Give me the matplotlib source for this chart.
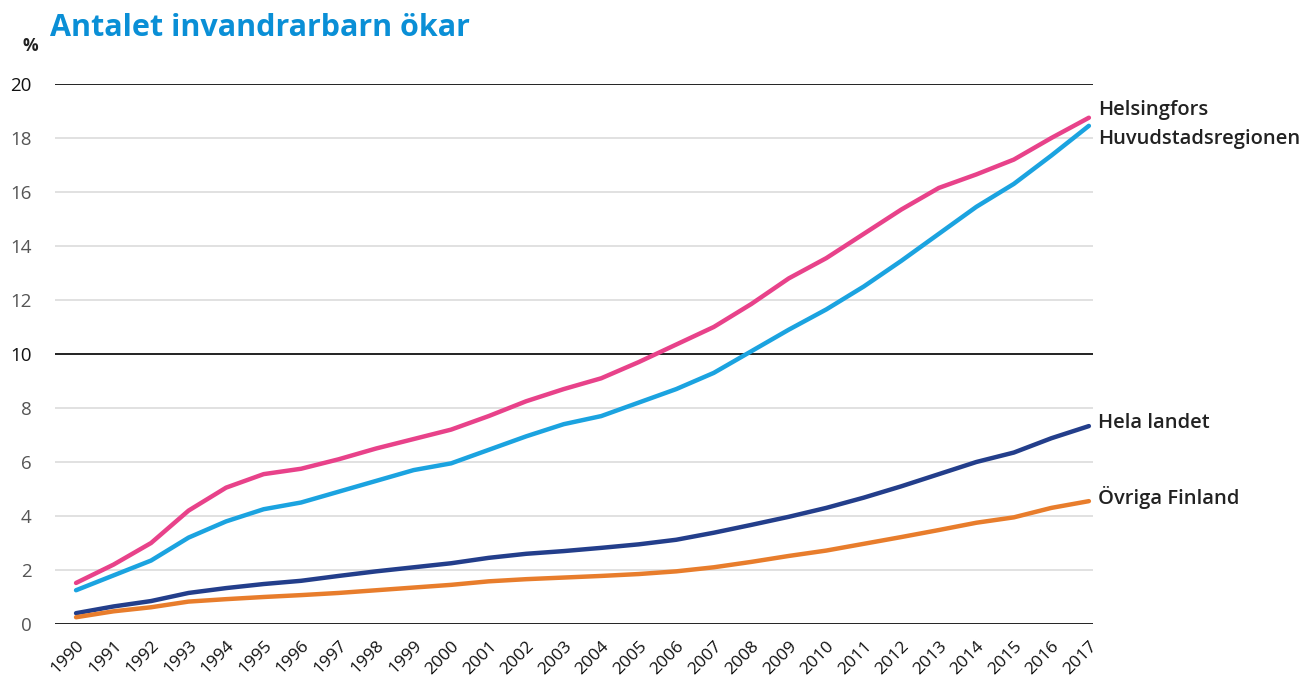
import matplotlib.pyplot as plt
import numpy as np

years = list(range(1990, 2018))

helsingfors = [1.52, 2.2, 3.0, 4.2, 5.05, 5.55, 5.75, 6.1, 6.5, 6.85, 7.2, 7.7, 8.25, 8.7,
               9.1, 9.7, 10.35, 11.0, 11.85, 12.8, 13.55, 14.45, 15.35, 16.15, 16.65, 17.2,
               18.0, 18.75]
huvudstad = [1.25, 1.8, 2.35, 3.2, 3.8, 4.25, 4.5, 4.9, 5.3, 5.7, 5.95, 6.45, 6.95, 7.4,
             7.7, 8.2, 8.7, 9.3, 10.1, 10.9, 11.65, 12.5, 13.45, 14.45, 15.45, 16.3,
             17.35, 18.45]
hela_landet = [0.4, 0.65, 0.85, 1.15, 1.33, 1.48, 1.6, 1.78, 1.95, 2.1, 2.25, 2.45, 2.6, 2.7,
               2.82, 2.95, 3.12, 3.38, 3.67, 3.97, 4.3, 4.68, 5.1, 5.55, 6.0, 6.35,
               6.88, 7.33]
ovriga = [0.25, 0.47, 0.62, 0.83, 0.92, 1.0, 1.07, 1.15, 1.25, 1.35, 1.45, 1.58, 1.66, 1.72,
          1.78, 1.85, 1.95, 2.1, 2.3, 2.52, 2.72, 2.97, 3.22, 3.48, 3.75, 3.95,
          4.3, 4.55]

names = ["Helsingfors", "Huvudstadsregionen", "Hela landet", "Övriga Finland"]
colors = ["#e8428a", "#1ba3e0", "#233e8b", "#e87d2c"]
# label heights (in data units) for the end labels
label_y = [19.04, 17.96, 7.44, 4.7]

plt.rcParams['font.family'] = ['Open Sans', 'DejaVu Sans']

fig = plt.figure(figsize=(13.04, 6.81), dpi=100)
ax = fig.add_axes([0.0422, 0.0837, 0.796, 0.793])

# gridlines
for v in range(2, 20, 2):
    if v == 10:
        continue
    ax.axhline(v, color="#dcdcdc", lw=1.2, zorder=1)
for v in [0, 10, 20]:
    ax.axhline(v, color="#222222", lw=1.4, zorder=1)

for name, vals, col, ly in zip(names, [helsingfors, huvudstad, hela_landet, ovriga], colors, label_y):
    ax.plot(years, vals, color=col, lw=3.2, solid_capstyle='round', zorder=3)
    ax.text(2017.25, ly, name, fontsize=14.5, fontweight='semibold', color="#222222",
            va='center', ha='left', clip_on=False)

ax.set_xlim(1989.44, 2017.11)
ax.set_ylim(0, 20)
for s in ax.spines.values():
    s.set_visible(False)

ax.set_yticks(range(0, 21, 2))
ax.set_yticklabels([str(v) for v in range(0, 21, 2)], fontsize=13.5)
for lab, v in zip(ax.get_yticklabels(), range(0, 21, 2)):
    lab.set_color("#111111" if v in (10, 20) else "#555555")
ax.tick_params(axis='y', length=0, pad=17)

ax.set_xticks(years)
ax.set_xticklabels([str(y) for y in years], rotation=45, ha='right',
                   rotation_mode='anchor', fontsize=12.5, color="#111111")
ax.tick_params(axis='x', length=0, pad=10)

fig.text(0.038, 0.959, "Antalet invandrarbarn ökar", fontsize=22, fontweight='bold',
         color="#0a8fd6", va='center', ha='left')
fig.text(0.017, 0.932, "%", fontsize=12.5, fontweight='bold', color="#222222",
         va='center', ha='left')

fig.savefig("out.png", dpi=100)
